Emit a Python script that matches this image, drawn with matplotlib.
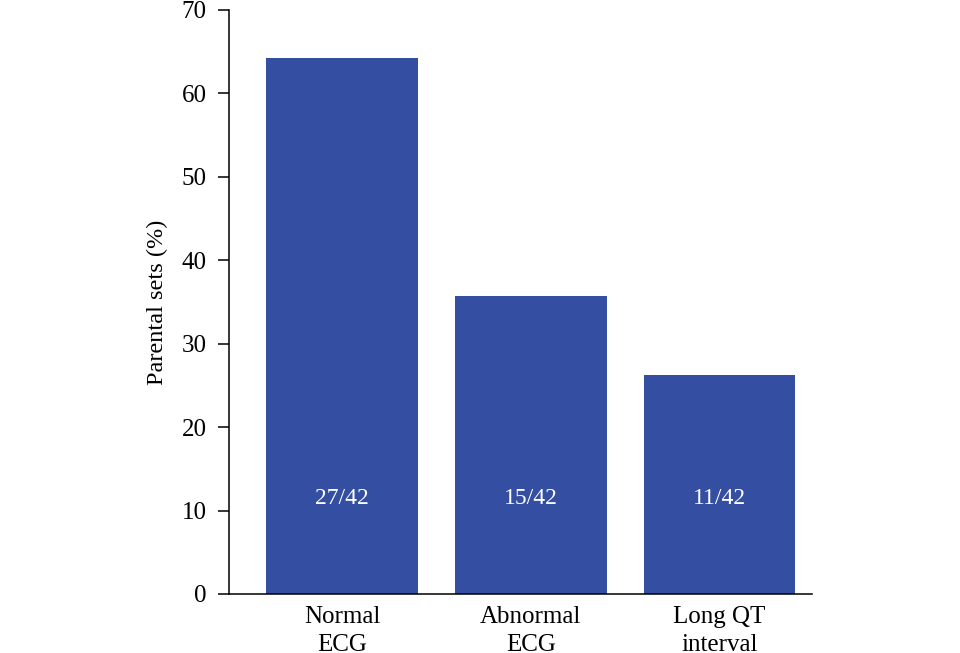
import numpy as np
import matplotlib
matplotlib.use("Agg")
import matplotlib.pyplot as plt

categories = ["Normal\nECG", "Abnormal\nECG", "Long QT\ninterval"]
counts = [27, 15, 11]
total = 42
percent = [c / total * 100 for c in counts]
bar_labels = [f"{c}/{total}" for c in counts]

plt.rcParams['font.family'] = ['Liberation Serif', 'DejaVu Serif']

fig = plt.figure(figsize=(9.6, 6.53), dpi=100)
ax = fig.add_axes([0.2385, 0.0904, 0.6073, 0.8943])

x = np.arange(len(categories))
bars = ax.bar(x, percent, width=0.805, color='#344ea2')

for xi, lab in zip(x, bar_labels):
    ax.text(xi, 11.5, lab, ha='center', va='center', color='white', fontsize=17)

ax.set_xlim(-0.599, 2.49)
ax.set_ylim(0, 70)
ax.set_yticks(range(0, 71, 10))
ax.set_xticks(x)
ax.set_xticklabels(categories, fontsize=18, linespacing=1.3)
ax.tick_params(axis='x', length=0, pad=9)
ax.tick_params(axis='y', length=8, width=1.1, pad=8, labelsize=18)
ax.set_ylabel("Parental sets (%)", fontsize=17.5, labelpad=10)

for s in ['top', 'right']:
    ax.spines[s].set_visible(False)
for s in ['left', 'bottom']:
    ax.spines[s].set_linewidth(1.1)

fig.savefig("out.png", dpi=100, facecolor='white')
